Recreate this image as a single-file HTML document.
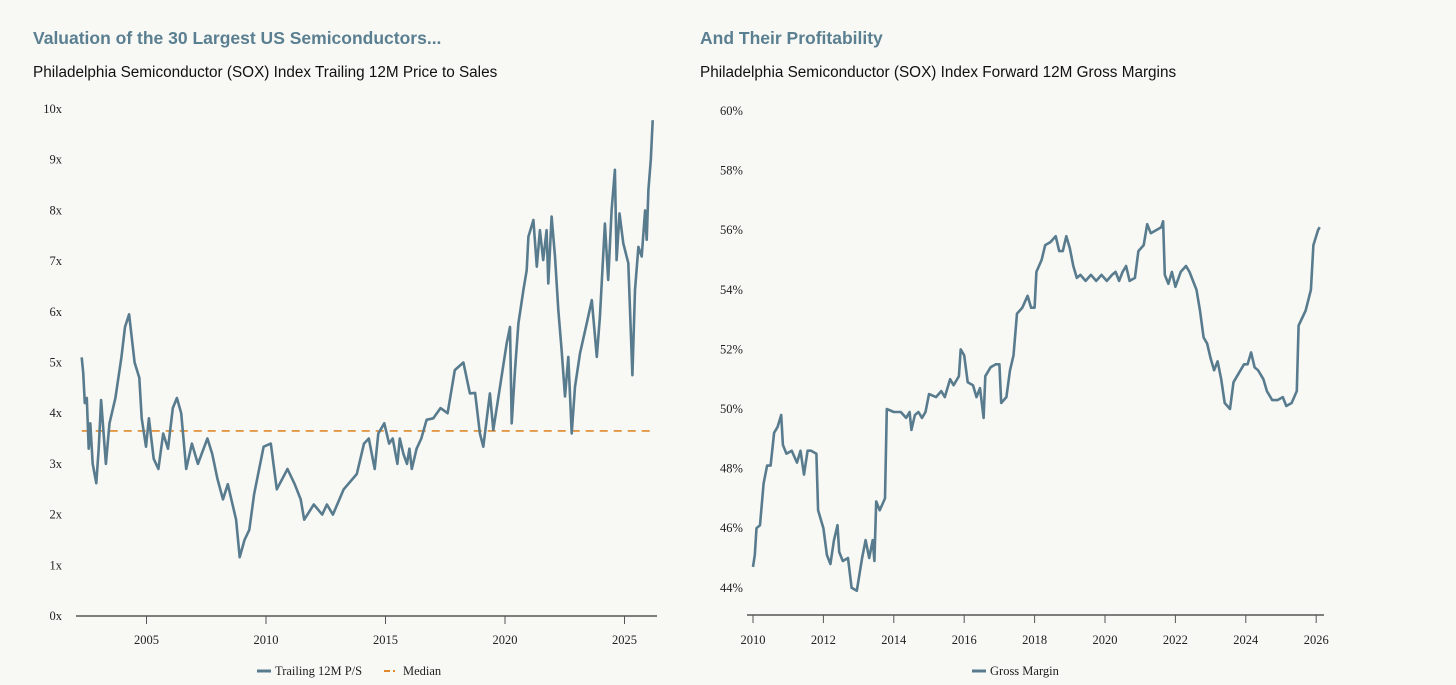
<!DOCTYPE html>
<html><head><meta charset="utf-8">
<style>
body{margin:0;background:#f8f8f5;width:1456px;height:685px;overflow:hidden;}
svg{display:block}
.t{font-family:"Liberation Sans",sans-serif;font-size:17.5px;font-weight:bold;fill:#5a7f90}
.s{font-family:"Liberation Sans",sans-serif;font-size:15.3px;fill:#111}
.k{font-family:"Liberation Serif",serif;font-size:12.5px;fill:#222}
</style></head><body>
<svg id="c" width="1456" height="685">
<text class="t" x="33" y="44">Valuation of the 30 Largest US Semiconductors...</text>
<text class="s" x="33" y="77">Philadelphia Semiconductor (SOX) Index Trailing 12M Price to Sales</text>
<text class="t" x="700" y="44">And Their Profitability</text>
<text class="s" x="700" y="77">Philadelphia Semiconductor (SOX) Index Forward 12M Gross Margins</text>
<g id="L"></g><g id="R"></g>
</svg>
<script>
const psYears=[2002.29,2002.35,2002.42,2002.5,2002.58,2002.65,2002.75,2002.9,2003.0,2003.1,2003.3,2003.45,2003.7,2003.95,2004.1,2004.27,2004.5,2004.7,2004.8,2004.98,2005.1,2005.3,2005.5,2005.7,2005.9,2006.0,2006.1,2006.27,2006.45,2006.66,2006.9,2007.15,2007.55,2007.75,2007.97,2008.2,2008.4,2008.75,2008.9,2009.1,2009.3,2009.5,2009.9,2010.2,2010.45,2010.9,2011.2,2011.45,2011.6,2012.0,2012.35,2012.55,2012.8,2013.25,2013.8,2014.1,2014.3,2014.55,2014.7,2014.95,2015.15,2015.3,2015.5,2015.6,2015.75,2015.9,2016.0,2016.1,2016.3,2016.5,2016.72,2017.0,2017.3,2017.6,2017.9,2018.26,2018.53,2018.75,2018.95,2019.09,2019.37,2019.51,2019.79,2020.07,2020.21,2020.28,2020.42,2020.56,2020.77,2020.91,2020.98,2021.19,2021.33,2021.46,2021.6,2021.74,2021.81,2021.95,2022.09,2022.23,2022.37,2022.51,2022.65,2022.79,2022.93,2023.14,2023.42,2023.63,2023.84,2023.97,2024.18,2024.32,2024.46,2024.6,2024.67,2024.79,2024.95,2025.16,2025.33,2025.44,2025.58,2025.72,2025.86,2025.93,2026.0,2026.1,2026.18];
const psValues=[5.1,4.8,4.2,4.3,3.3,3.8,3.0,2.62,3.3,4.26,3.0,3.8,4.3,5.1,5.7,5.95,5.0,4.7,3.9,3.34,3.9,3.1,2.9,3.6,3.3,3.7,4.1,4.3,4.0,2.9,3.4,3.0,3.5,3.2,2.7,2.3,2.6,1.9,1.16,1.5,1.7,2.4,3.34,3.4,2.5,2.9,2.6,2.3,1.9,2.2,2.0,2.2,2.0,2.5,2.8,3.4,3.5,2.9,3.6,3.8,3.4,3.5,3.0,3.5,3.2,3.0,3.3,2.9,3.3,3.5,3.87,3.9,4.1,4.0,4.85,5.0,4.39,4.4,3.6,3.34,4.39,3.67,4.52,5.38,5.7,3.8,4.85,5.77,6.43,6.82,7.48,7.81,6.89,7.61,7.02,7.61,6.56,7.88,7.09,6.04,5.25,4.33,5.11,3.6,4.52,5.18,5.77,6.23,5.11,5.9,7.74,6.63,8.0,8.8,7.02,7.94,7.35,6.96,4.75,6.43,7.28,7.09,8.0,7.42,8.4,9.0,9.78];
const psMedian=[3.65];
const psYTicks=[0,1,2,3,4,5,6,7,8,9,10];
const psXTicks=[2005,2010,2015,2020,2025];
const gmYears=[2010.0,2010.05,2010.1,2010.2,2010.3,2010.4,2010.5,2010.6,2010.7,2010.8,2010.85,2010.95,2011.1,2011.25,2011.35,2011.45,2011.55,2011.65,2011.8,2011.85,2012.0,2012.1,2012.2,2012.3,2012.4,2012.45,2012.55,2012.7,2012.8,2012.95,2013.1,2013.2,2013.3,2013.4,2013.45,2013.5,2013.6,2013.75,2013.8,2014.0,2014.2,2014.35,2014.45,2014.5,2014.6,2014.7,2014.8,2014.9,2015.0,2015.2,2015.35,2015.45,2015.6,2015.7,2015.85,2015.9,2016.0,2016.1,2016.25,2016.35,2016.45,2016.55,2016.6,2016.75,2016.9,2017.0,2017.05,2017.2,2017.3,2017.4,2017.5,2017.65,2017.8,2017.9,2018.0,2018.05,2018.2,2018.3,2018.45,2018.6,2018.7,2018.8,2018.9,2019.0,2019.1,2019.2,2019.3,2019.45,2019.6,2019.75,2019.9,2020.05,2020.2,2020.3,2020.4,2020.5,2020.6,2020.7,2020.85,2020.95,2021.1,2021.2,2021.3,2021.45,2021.6,2021.65,2021.7,2021.8,2021.9,2022.0,2022.15,2022.3,2022.4,2022.5,2022.6,2022.7,2022.8,2022.9,2023.0,2023.1,2023.2,2023.3,2023.4,2023.55,2023.65,2023.8,2023.95,2024.05,2024.15,2024.25,2024.35,2024.5,2024.6,2024.75,2024.9,2025.05,2025.15,2025.3,2025.45,2025.5,2025.7,2025.85,2025.92,2026.05,2026.1];
const gmValues=[44.7,45.1,46.0,46.1,47.5,48.1,48.1,49.2,49.4,49.8,48.8,48.5,48.6,48.2,48.6,47.8,48.6,48.6,48.5,46.6,46.0,45.1,44.8,45.6,46.1,45.2,44.9,45.0,44.0,43.9,45.0,45.6,45.0,45.6,44.9,46.9,46.6,47.0,50.0,49.9,49.9,49.7,49.9,49.3,49.8,49.9,49.7,49.9,50.5,50.4,50.6,50.4,51.0,50.8,51.1,52.0,51.8,50.9,50.8,50.4,50.7,49.7,51.1,51.4,51.5,51.5,50.2,50.4,51.3,51.8,53.2,53.4,53.8,53.4,53.4,54.6,55.0,55.5,55.6,55.8,55.3,55.3,55.8,55.4,54.8,54.4,54.5,54.3,54.5,54.3,54.5,54.3,54.5,54.6,54.3,54.6,54.8,54.3,54.4,55.3,55.5,56.2,55.9,56.0,56.1,56.3,54.5,54.2,54.6,54.1,54.6,54.8,54.6,54.3,54.0,53.3,52.4,52.2,51.7,51.3,51.6,51.0,50.2,50.0,50.9,51.2,51.5,51.5,51.9,51.4,51.3,51.0,50.6,50.3,50.3,50.4,50.1,50.2,50.6,52.8,53.3,54.0,55.5,56.0,56.1];
const gmYTicks=[44,46,48,50,52,54,56,58,60];
const gmXTicks=[2010,2012,2014,2016,2018,2020,2022,2024,2026];
const NS='http://www.w3.org/2000/svg';
function mk(p,t,a){const e=document.createElementNS(NS,t);for(const k in a)e.setAttribute(k,a[k]);p.appendChild(e);return e;}
const LC='#587c8e', OC='#e0892b';
const L=document.getElementById('L');
const lx=y=>146.5+(y-2005)*23.9, ly=v=>616-v*50.7;
psYTicks.forEach(v=>{const t=mk(L,'text',{x:62,y:ly(v)+4,'text-anchor':'end',class:'k'});t.textContent=v+'x';

});
let ax=mk(L,'line',{x1:76,x2:657,y1:616,y2:616,stroke:'#555','stroke-width':1.5});


psXTicks.forEach(y=>{const l=mk(L,'line',{x1:lx(y),x2:lx(y),y1:616,y2:624,stroke:'#555'});


const t=mk(L,'text',{x:lx(y),y:644,'text-anchor':'middle',class:'k'});t.textContent=y;

});
let md=mk(L,'line',{x1:lx(psYears[0]),x2:lx(psYears[psYears.length-1]),y1:ly(psMedian[0]),y2:ly(psMedian[0]),stroke:OC,'stroke-width':1.6,'stroke-dasharray':'8,6'});


let pl=mk(L,'polyline',{points:psYears.map((y,i)=>lx(y).toFixed(1)+','+ly(psValues[i]).toFixed(1)).join(' '),fill:'none',stroke:LC,'stroke-width':2.6,'stroke-linejoin':'round'});


let lg=mk(L,'g',{});


mk(lg,'line',{x1:257,x2:271,y1:671,y2:671,stroke:LC,'stroke-width':3});
let lt=mk(lg,'text',{x:275,y:675,class:'k'});lt.textContent='Trailing 12M P/S';
mk(lg,'line',{x1:384,x2:390,y1:671,y2:671,stroke:OC,'stroke-width':2});
mk(lg,'line',{x1:393,x2:395,y1:671,y2:671,stroke:OC,'stroke-width':2});
let lt2=mk(lg,'text',{x:403,y:675,class:'k'});lt2.textContent='Median';
const R=document.getElementById('R');
const rx=y=>753+(y-2010)*35.2, ry=v=>409-(v-50)*29.8;
gmYTicks.forEach(v=>{const t=mk(R,'text',{x:720,y:ry(v)+4,class:'k'});t.textContent=v+'%';

});
let ax2=mk(R,'line',{x1:747,x2:1324,y1:615,y2:615,stroke:'#555','stroke-width':1.5});


gmXTicks.forEach(y=>{const l=mk(R,'line',{x1:rx(y),x2:rx(y),y1:615,y2:623,stroke:'#555'});


const t=mk(R,'text',{x:rx(y),y:644,'text-anchor':'middle',class:'k'});t.textContent=y;

});
let gl=mk(R,'polyline',{points:gmYears.map((y,i)=>rx(y).toFixed(1)+','+ry(gmValues[i]).toFixed(1)).join(' '),fill:'none',stroke:LC,'stroke-width':2.6,'stroke-linejoin':'round'});


let rg=mk(R,'g',{});


mk(rg,'line',{x1:972,x2:986,y1:671,y2:671,stroke:LC,'stroke-width':3});
let rt=mk(rg,'text',{x:990,y:675,class:'k'});rt.textContent='Gross Margin';
</script>
</body></html>
